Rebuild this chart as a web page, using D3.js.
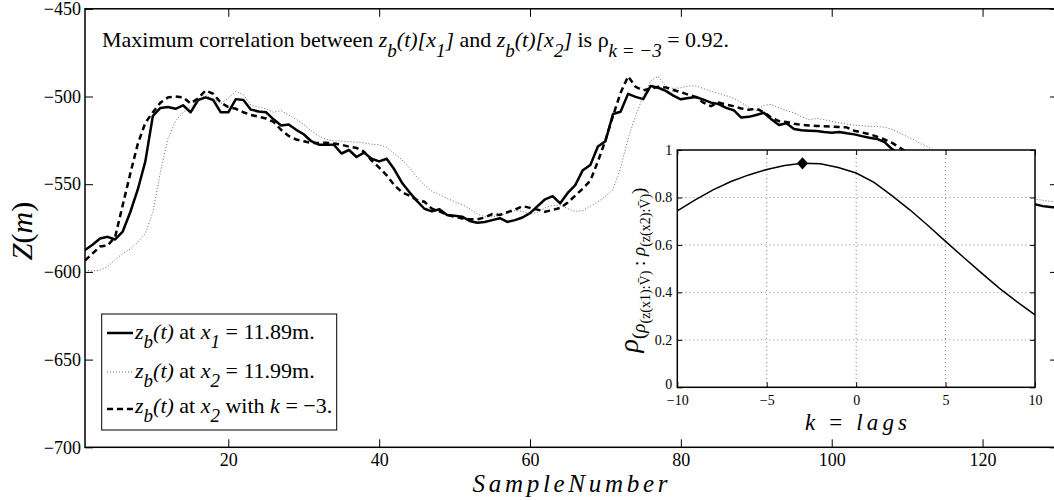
<!DOCTYPE html>
<html>
<head>
<meta charset="utf-8">
<script src="https://cdn.jsdelivr.net/npm/d3@7"></script>
<style>
body { margin: 0; background: #fff; }
svg { display: block; }
text { white-space: pre; }
</style>
</head>
<body>
<svg width="1054" height="500"></svg>
<script>
// bed elevation z_b(t) at x1 = 11.89m (solid)
var zx1 = [-587.5,-584.5,-581,-580,-581.5,-577,-566,-553,-537,-511,
  -506.5,-506,-507,-505,-509,-502,-500.5,-502,-509,-509,
  -501.5,-502,-507.5,-508.5,-509,-513,-516.5,-516,-519,-521.5,
  -525.5,-527.5,-527.5,-527.5,-532.5,-530.5,-534.5,-532,-535.5,-537,
  -535.5,-541.5,-549,-554.5,-559.5,-564,-565.5,-564.3,-567.6,-568,
  -568.5,-571,-572,-571.5,-570.5,-569.4,-571.5,-570.5,-569,-566.5,
  -562.5,-558.6,-556.8,-560.9,-555,-550.5,-542,-539,-528.5,-525.5,
  -510,-508.7,-498.5,-500.2,-501.5,-494,-495,-496.8,-499.5,-501.6,
  -500.8,-500.3,-501.8,-503.5,-504.3,-506.5,-507.8,-512,-511.6,-510.5,
  -509.3,-513,-516.2,-515.3,-518.5,-519.3,-519.5,-519.7,-520.3,-520.6,
  -520.2,-521,-521.6,-522.6,-523.5,-524.2,-526,-530,-533,-536,
  -538,-540,-542,-544,-545.5,-547,-548.5,-550,-551.5,-553,
  -554.5,-556,-557.5,-559,-560,-561,-561.5,-562.5,-563,-563.3];

// z_b(t) at x2 = 11.99m (dotted)
var zx2 = [-599,-599.5,-599,-597,-593,-589.5,-587,-583,-578,-566,
  -543,-524,-514,-509,-506,-502,-499,-501.5,-504,-501,
  -497,-499,-505,-506,-507,-509,-508,-510.5,-513,-516,
  -519.5,-522.5,-524.5,-525.3,-525.5,-525.8,-526,-526.5,-527.2,-527.6,
  -529,-532.5,-536,-540.5,-546,-550.5,-554,-556,-558,-560,
  -561.5,-564,-567,-568.5,-568.5,-568,-566.5,-565,-565.5,-567,
  -566,-563.5,-562,-562,-564,-565.5,-565,-562.5,-560,-557,
  -553,-541,-524,-511,-500,-491,-488.5,-494,-495.5,-495,
  -494,-494,-495.5,-497,-498.2,-499.5,-501,-503.5,-506,-508,
  -505,-504.5,-506.5,-508,-509.3,-511.5,-513.2,-512.5,-513.2,-514.2,
  -515,-515.7,-516.3,-516.7,-517,-517.1,-517.5,-518.7,-520.8,-522.9,
  -525,-527.3,-529.2,-532,-535,-538,-540.5,-543,-545,-547,
  -549,-551,-553,-554.5,-556,-557.5,-558.5,-559.2,-559.8,-560];

// z_b(t) at x2 with k = -3 (dashed)
var zx2Lagged = [-593.5,-589.5,-585.5,-585,-580,-562,-544,-527,-515,-509,
  -503.5,-500.5,-500,-500.5,-504,-501,-496.5,-498.5,-503.5,-506,
  -507,-509,-510.5,-511.5,-512.5,-514.5,-519,-522.5,-524.5,-525.5,
  -526.5,-526.5,-526.3,-526.8,-527.5,-528.6,-529.3,-531.5,-536.5,-540.5,
  -545,-550.5,-554.5,-556.5,-559,-560,-564,-565.5,-567.5,-568.5,
  -569.5,-570,-570,-569,-567,-567.5,-566,-564.5,-562.5,-563.5,
  -564.5,-565.7,-564.7,-563.5,-560.5,-556.5,-552.5,-548,-537,-525,
  -511,-498,-488.5,-494.5,-496.5,-495.5,-494.5,-494.8,-496.3,-497.5,
  -499,-500.3,-503.5,-505.5,-503.5,-504.6,-505.5,-506.8,-507.5,-507,
  -509,-512,-514,-514.5,-515.5,-516.2,-516.5,-516.8,-517,-517.2,
  -517.4,-517.6,-519.5,-520.5,-521.5,-522.9,-524.5,-526.5,-529,-532,
  -535,-538,-540.5,-543,-545,-547,-549,-551,-553,-554.5,
  -556,-557.5,-558.5,-559.2,-559.8,-560,-560];

// cross correlation against lag (inset)
var lags = [-10,-9,-8,-7,-6,-5,-4,-3,-2,-1,0,1,2,3,4,5,6,7,8,9,10];
var rhoLag = [0.743,0.79,0.832,0.867,0.895,0.918,0.935,0.944,0.942,0.926,0.903,
  0.864,0.808,0.748,0.683,0.615,0.548,0.482,0.418,0.36,0.305];
var bestLag = -3, bestRho = 0.944;

var xTicks = [20, 40, 60, 80, 100, 120];
var yTicks = [-700, -650, -600, -550, -500, -450];
var insetXTicks = [-10, -5, 0, 5, 10];
var insetYTicks = [0, 0.2, 0.4, 0.6, 0.8, 1];
var insetGridX = [-5, 0, 5];
var insetGridY = [0.2, 0.4, 0.6, 0.8];

var FONT = "'Liberation Serif'";
var svg = d3.select("svg");

var plotL = 85, plotR = 1058, plotT = 8.8, plotB = 447.3;
var insL = 677.3, insR = 1035, insT = 150, insB = 387.3;

var x = d3.scaleLinear().domain([1, 130]).range([plotL, plotR]);
var y = d3.scaleLinear().domain([-700, -450]).range([plotB, plotT]);

function styleAxis(g, size) {
    g.attr("font-family", null).attr("font-size", size);
    g.select(".domain").remove();
    g.selectAll(".tick line").attr("stroke", "#000").attr("stroke-width", 1);
    g.selectAll(".tick text").attr("fill", "#000");
}

// rich text with italic / subscript parts
function addRich(parent, px, py, size, parts) {
    var t = parent.append("text").attr("x", px).attr("y", py).attr("font-size", size);
    var shift = 0;
    parts.forEach(function(p) {
        var want = p.sub || 0;
        var ts = t.append("tspan").text(p.t).attr("dy", want - shift);
        shift = want;
        if (p.i) ts.attr("font-style", "italic");
        if (p.size) ts.attr("font-size", p.size);
    });
    return t;
}

// main axes
svg.append("g")
    .attr("transform", "translate(0," + plotB + ")")
    .call(d3.axisBottom(x).tickValues(xTicks).tickSizeInner(-8).tickSizeOuter(0).tickPadding(6))
    .call(styleAxis, 18);
svg.append("g")
    .attr("transform", "translate(0," + plotT + ")")
    .call(d3.axisTop(x).tickValues(xTicks).tickSizeInner(-8).tickSizeOuter(0).tickFormat(""))
    .call(styleAxis, 18);
svg.append("g")
    .attr("transform", "translate(" + plotL + ",0)")
    .call(d3.axisLeft(y).tickValues(yTicks).tickSizeInner(-8).tickSizeOuter(0).tickPadding(4))
    .call(styleAxis, 18);
svg.append("g")
    .attr("transform", "translate(" + plotR + ",0)")
    .call(d3.axisRight(y).tickValues(yTicks).tickSizeInner(-8).tickSizeOuter(0).tickFormat(""))
    .call(styleAxis, 18);

svg.append("clipPath").attr("id", "plotclip")
  .append("rect")
    .attr("x", plotL).attr("y", plotT)
    .attr("width", plotR - plotL).attr("height", plotB - plotT);

var line = d3.line()
    .x(function(d, i) { return x(i + 1); })
    .y(function(d) { return y(d); });

var lines = svg.append("g").attr("clip-path", "url(#plotclip)").attr("fill", "none");
lines.append("path").datum(zx1).attr("d", line)
    .attr("stroke", "#000").attr("stroke-width", 2.5).attr("stroke-linejoin", "round");
lines.append("path").datum(zx2).attr("d", line)
    .attr("stroke", "#666").attr("stroke-width", 1).attr("stroke-dasharray", "1,2");
lines.append("path").datum(zx2Lagged).attr("d", line)
    .attr("stroke", "#000").attr("stroke-width", 2.5).attr("stroke-dasharray", "6,4");

svg.append("rect")
    .attr("x", plotL).attr("y", plotT)
    .attr("width", plotR - plotL).attr("height", plotB - plotT)
    .attr("fill", "none").attr("stroke", "#000").attr("stroke-width", 1.5);

// title
addRich(svg, 102, 47, 22, [
    {t: "Maximum correlation between "},
    {t: "z", i: true}, {t: "b", i: true, sub: 10, size: 19}, {t: "(t)[x", i: true},
    {t: "1", i: true, sub: 10, size: 19}, {t: "]", i: true},
    {t: " and "},
    {t: "z", i: true}, {t: "b", i: true, sub: 10, size: 19}, {t: "(t)[x", i: true},
    {t: "2", i: true, sub: 10, size: 19}, {t: "]", i: true},
    {t: " is ρ"},
    {t: "k = −3", i: true, sub: 10, size: 19},
    {t: " = 0.92."}
]);

// axis labels
svg.append("text")
    .attr("x", 570).attr("y", 492)
    .attr("text-anchor", "middle")
    .attr("font-size", 25).attr("font-style", "italic")
    .attr("textLength", 195).attr("lengthAdjust", "spacing")
    .text("SampleNumber");

var zl = svg.append("text")
    .attr("transform", "translate(32,231) rotate(-90)")
    .attr("text-anchor", "middle")
    .attr("font-size", 30);
zl.append("tspan").attr("font-style", "italic").text("Z");
zl.append("tspan").text("(");
zl.append("tspan").attr("font-style", "italic").text("m");
zl.append("tspan").text(")");

// legend
var leg = svg.append("g");
leg.append("rect")
    .attr("x", 101.7).attr("y", 314).attr("width", 235).attr("height", 116)
    .attr("fill", "#fff").attr("stroke", "#000").attr("stroke-width", 1);
leg.append("line").attr("x1", 107).attr("x2", 133).attr("y1", 333).attr("y2", 333)
    .attr("stroke", "#000").attr("stroke-width", 2.5);
leg.append("line").attr("x1", 107).attr("x2", 133).attr("y1", 372).attr("y2", 372)
    .attr("stroke", "#666").attr("stroke-width", 1).attr("stroke-dasharray", "1,2");
leg.append("line").attr("x1", 107).attr("x2", 133).attr("y1", 409).attr("y2", 409)
    .attr("stroke", "#000").attr("stroke-width", 2.5).attr("stroke-dasharray", "6,4");

addRich(leg, 135, 339, 22, [
    {t: "z", i: true}, {t: "b", i: true, sub: 9, size: 19}, {t: "(t)", i: true},
    {t: " at "}, {t: "x", i: true}, {t: "1", i: true, sub: 9, size: 19}, {t: " = 11.89m."}
]);
addRich(leg, 135, 377.5, 22, [
    {t: "z", i: true}, {t: "b", i: true, sub: 9, size: 19}, {t: "(t)", i: true},
    {t: " at "}, {t: "x", i: true}, {t: "2", i: true, sub: 9, size: 19}, {t: " = 11.99m."}
]);
addRich(leg, 135, 413, 22, [
    {t: "z", i: true}, {t: "b", i: true, sub: 9, size: 19}, {t: "(t)", i: true},
    {t: " at "}, {t: "x", i: true}, {t: "2", i: true, sub: 9, size: 19}, {t: " with "},
    {t: "k", i: true}, {t: " = −3."}
]);

// inset: correlation against lag
var xi = d3.scaleLinear().domain([-10, 10]).range([insL, insR]);
var yi = d3.scaleLinear().domain([0, 1]).range([insB, insT]);
var ins = svg.append("g");

ins.append("rect")
    .attr("x", insL).attr("y", insT).attr("width", insR - insL).attr("height", insB - insT)
    .attr("fill", "#fff");

ins.selectAll(".gx").data(insetGridX).enter().append("line")
    .attr("x1", function(d) { return xi(d); }).attr("x2", function(d) { return xi(d); })
    .attr("y1", insT).attr("y2", insB)
    .attr("stroke", "#888").attr("stroke-dasharray", "1,3");
ins.selectAll(".gy").data(insetGridY).enter().append("line")
    .attr("x1", insL).attr("x2", insR)
    .attr("y1", function(d) { return yi(d); }).attr("y2", function(d) { return yi(d); })
    .attr("stroke", "#888").attr("stroke-dasharray", "1,3");

ins.append("g")
    .attr("transform", "translate(0," + insB + ")")
    .call(d3.axisBottom(xi).tickValues(insetXTicks).tickSizeInner(-5).tickSizeOuter(0).tickPadding(8))
    .call(styleAxis, 14);
ins.append("g")
    .attr("transform", "translate(0," + insT + ")")
    .call(d3.axisTop(xi).tickValues(insetXTicks).tickSizeInner(-5).tickSizeOuter(0).tickFormat(""))
    .call(styleAxis, 14);
var insY = ins.append("g")
    .attr("transform", "translate(" + insL + ",0)")
    .call(d3.axisLeft(yi).tickValues(insetYTicks).tickSizeInner(-5).tickSizeOuter(0).tickPadding(5)
        .tickFormat(d3.format("~g")))
    .call(styleAxis, 14);
// lift the "0" a little so it clears the -10 below it
insY.selectAll(".tick text").filter(function(d) { return d === 0; }).attr("y", -3);
ins.append("g")
    .attr("transform", "translate(" + insR + ",0)")
    .call(d3.axisRight(yi).tickValues(insetYTicks).tickSizeInner(-5).tickSizeOuter(0).tickFormat(""))
    .call(styleAxis, 14);

ins.append("path")
    .datum(rhoLag)
    .attr("fill", "none").attr("stroke", "#000").attr("stroke-width", 1.5)
    .attr("d", d3.line()
        .x(function(d, i) { return xi(lags[i]); })
        .y(function(d) { return yi(d); }));

ins.append("path")
    .attr("d", d3.symbol(d3.symbolDiamond2, 80)())
    .attr("transform", "translate(" + xi(bestLag) + "," + yi(bestRho) + ") scale(1,1.1)")
    .attr("fill", "#000");

ins.append("rect")
    .attr("x", insL).attr("y", insT).attr("width", insR - insL).attr("height", insB - insT)
    .attr("fill", "none").attr("stroke", "#000").attr("stroke-width", 1.5);

// inset labels
ins.append("text")
    .attr("x", 856).attr("y", 430)
    .attr("text-anchor", "middle")
    .attr("font-size", 23)
    .attr("textLength", 102).attr("lengthAdjust", "spacing")
    .call(function(t) {
        t.append("tspan").attr("font-style", "italic").text("k");
        t.append("tspan").text(" = ");
        t.append("tspan").attr("font-style", "italic").text("lags");
    });

var yl = ins.append("text")
    .attr("transform", "translate(638,270) rotate(-90)")
    .attr("text-anchor", "middle")
    .attr("font-size", 28);
yl.append("tspan").attr("font-style", "italic").text("ρ");
yl.append("tspan").attr("font-size", 19).attr("dy", 7).text("(");
yl.append("tspan").attr("font-size", 19).attr("font-style", "italic").text("ρ");
yl.append("tspan").attr("font-size", 14).attr("dy", 5).text("(z(x1):V\u0304)");
yl.append("tspan").attr("font-size", 19).attr("dy", -5).text(" : ");
yl.append("tspan").attr("font-size", 19).attr("font-style", "italic").text("ρ");
yl.append("tspan").attr("font-size", 14).attr("dy", 5).text("(z(x2):V\u0304)");
yl.append("tspan").attr("font-size", 19).attr("dy", -5).text(")");

// serif face on every text
svg.selectAll("text").style("font-family", FONT);
</script>
</body>
</html>
